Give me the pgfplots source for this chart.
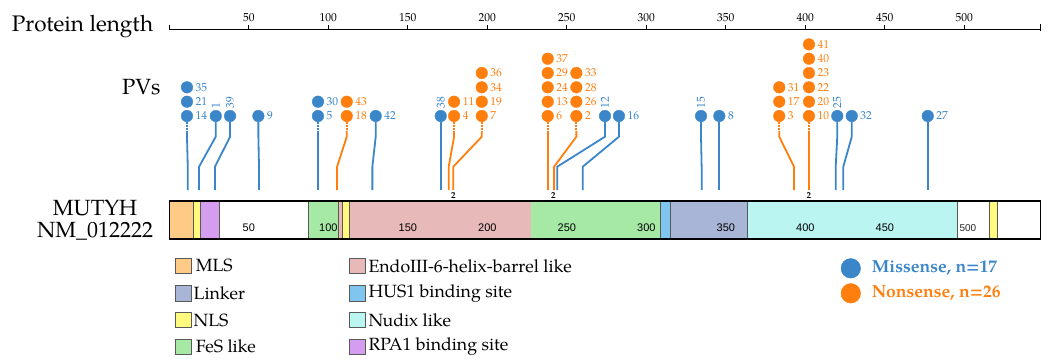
\documentclass[border=0pt]{standalone}
\usepackage{fontspec}
\setmainfont{TeX Gyre Pagella}
\newfontfamily\sansf{Liberation Sans}
\usepackage{pgfplots}
\pgfplotsset{compat=1.18}
\definecolor{mblue}{HTML}{3A86C8}
\definecolor{morange}{HTML}{FF7F0E}
\definecolor{cMLS}{HTML}{FDCB85}
\definecolor{cLinker}{HTML}{A9B5D6}
\definecolor{cNLS}{HTML}{FFFA7D}
\definecolor{cFeS}{HTML}{A6E9A5}
\definecolor{cEndo}{HTML}{E8B9B9}
\definecolor{cHUS}{HTML}{7FC5EE}
\definecolor{cNudix}{HTML}{BBF5F1}
\definecolor{cRPA}{HTML}{D59DF0}
\newcommand{\labfont}{\fontsize{11.5}{12}\selectfont}
\newcommand{\stem}[3]{\addplot[#1, line width=1.8pt] coordinates {(#2,121.5) (#2,136.7) (#3,166.7) (#3,190)};}
\newcommand{\dstem}[3]{\addplot[#1, line width=1.8pt, dash pattern=on 1.5pt off 1.6pt] coordinates {(#2,122) (#2,131)};
\addplot[#1, line width=1.8pt] coordinates {(#2,131) (#2,136.7) (#3,166.7) (#3,190)};}
\newcommand{\dom}[3]{\addplot[fill=#1, draw=black!65, line width=0.6pt] coordinates {(#2,201) (#3,201) (#3,239) (#2,239) (#2,201)};}
\newcommand{\legbox}[3]{\addplot[only marks, mark=square*, mark size=7.8pt, mark options={fill=#1, draw=black!65, line width=0.7pt}] coordinates {(#2,#3)};}
\begin{document}
\begin{tikzpicture}
\path[use as bounding box] (0,0) rectangle (1053pt,359pt);
\begin{axis}[at={(0,0)}, anchor=south west, width=1053pt, height=359pt, scale only axis, hide axis, clip=false,
  xmin=-106.5, xmax=555.8, ymin=0, ymax=359, y dir=reverse]

% ruler
\addplot[black, line width=1.5pt] coordinates {(0,29.5) (548,29.5)};
\addplot[black, line width=1.3pt] coordinates {(0,24.5) (0,30.2)};
\addplot[black, line width=1.3pt] coordinates {(548,24) (548,30.5)};
\pgfplotsinvokeforeach{50,100,...,500}{
  \addplot[black, line width=1pt] coordinates {(#1,25) (#1,29.5)};
  \node[font=\fontsize{11.5}{12}\selectfont] at (axis cs:#1,18) {#1};
}
\node[anchor=base east, font=\fontsize{22.5}{24}\selectfont] at (axis cs:-7.9,31.7) {Protein length};
\node[anchor=base east, font=\fontsize{22}{24}\selectfont] at (axis cs:-3.3,94.3) {PVs};
\node[anchor=base, font=\fontsize{22}{24}\selectfont] at (axis cs:-46.7,215) {MUTYH};
\node[anchor=base, font=\fontsize{22}{24}\selectfont] at (axis cs:-46.7,237.3) {NM\_012222};

% stems (circle position, protein position)
\dstem{mblue}{11.1}{11.6}
\stem{mblue}{29.2}{18.7}
\stem{mblue}{38.2}{28.7}
\stem{mblue}{56.0}{56.4}
\dstem{mblue}{93.5}{93.5}
\stem{mblue}{129.8}{127.7}
\stem{mblue}{170.7}{170.7}
\stem{mblue}{274.0}{244.0}
\stem{mblue}{282.8}{260.0}
\stem{mblue}{334.4}{334.8}
\stem{mblue}{345.9}{345.9}
\stem{mblue}{420.1}{419.1}
\stem{mblue}{429.2}{423.9}
\stem{mblue}{477.0}{477.0}
\dstem{morange}{111.6}{105.5}
\dstem{morange}{179.1}{175.7}
\dstem{morange}{196.5}{178.6}
\dstem{morange}{238.0}{238.0}
\dstem{morange}{256.0}{242.0}
\dstem{morange}{383.6}{392.9}
\dstem{morange}{402.3}{402.3}

% missense circles with labels
\addplot[only marks, mark=*, mark size=5.8pt, color=mblue, nodes near coords, point meta=explicit symbolic,
  every node near coord/.append style={anchor=west, inner sep=0pt, xshift=8.5pt, font=\labfont, text=mblue}]
  table[meta=l] {
x y l
11.1 116 14
11.1 101.7 21
11.1 87.3 35
56.0 116 9
93.5 116 5
93.5 101.7 30
129.8 116 42
282.8 116 16
345.9 116 8
429.2 116 32
477.0 116 27
};
\addplot[only marks, mark=*, mark size=5.8pt, color=mblue] table {
x y
29.2 116
38.2 116
170.7 116
274.0 116
334.4 116
420.1 116
};
\node[rotate=90, anchor=west, inner sep=0pt, text=mblue, font=\labfont] at (axis cs:29.2,108.3) {1};
\node[rotate=90, anchor=west, inner sep=0pt, text=mblue, font=\labfont] at (axis cs:38.2,108.3) {39};
\node[rotate=90, anchor=west, inner sep=0pt, text=mblue, font=\labfont] at (axis cs:170.7,108.3) {38};
\node[rotate=90, anchor=west, inner sep=0pt, text=mblue, font=\labfont] at (axis cs:274.0,108.3) {12};
\node[rotate=90, anchor=west, inner sep=0pt, text=mblue, font=\labfont] at (axis cs:334.4,108.3) {15};
\node[rotate=90, anchor=west, inner sep=0pt, text=mblue, font=\labfont] at (axis cs:420.1,108.3) {25};

% nonsense circles with labels
\addplot[only marks, mark=*, mark size=5.8pt, color=morange, nodes near coords, point meta=explicit symbolic,
  every node near coord/.append style={anchor=west, inner sep=0pt, xshift=8.5pt, font=\labfont, text=morange}]
  table[meta=l] {
x y l
111.6 116 18
111.6 101.7 43
179.1 116 4
179.1 101.7 11
196.5 116 7
196.5 101.7 19
196.5 87.3 34
196.5 73.0 36
238.0 116 6
238.0 101.7 13
238.0 87.3 24
238.0 73.0 29
238.0 58.7 37
256.0 116 2
256.0 101.7 26
256.0 87.3 28
256.0 73.0 33
383.6 116 3
383.6 101.7 17
383.6 87.3 31
402.3 116 10
402.3 101.7 20
402.3 87.3 22
402.3 73.0 23
402.3 58.7 40
402.3 44.4 41
};

% count markers
\node[font=\fontsize{9}{9}\selectfont\bfseries] at (axis cs:178.6,196) {2};
\node[font=\fontsize{9}{9}\selectfont\bfseries] at (axis cs:241.5,196) {2};
\node[font=\fontsize{9}{9}\selectfont\bfseries] at (axis cs:402.3,196) {2};

% domains
\dom{white}{0}{548}
\dom{cMLS}{0}{15.1}
\dom{cNLS}{15.1}{19.3}
\dom{cRPA}{19.3}{31.4}
\dom{cFeS}{87.4}{106.3}
\dom{cEndo}{106.3}{108.6}
\dom{cNLS}{108.6}{113.2}
\dom{cEndo}{113.2}{227.5}
\addplot[fill=cFeS, draw=none] coordinates {(227.5,201.5) (308.6,201.5) (308.6,238.5) (227.5,238.5) (227.5,201.5)};
\addplot[draw=black!65, line width=0.6pt] coordinates {(308.6,201) (308.6,239)};
\dom{cHUS}{308.6}{314.9}
\dom{cLinker}{314.9}{363.8}
\dom{cNudix}{363.8}{495.8}
\dom{cNLS}{515.7}{520.8}
\addplot[black, line width=1.5pt] coordinates {(0,201) (548,201) (548,239) (0,239) (0,201)};
\pgfplotsinvokeforeach{50,100,...,450}{
  \node[font=\sansf\fontsize{11}{11}\selectfont] at (axis cs:#1,227.3) {#1};
}
\node[anchor=west, inner sep=0pt, font=\sansf\fontsize{10}{10}\selectfont, text=black!85] at (axis cs:496.9,228.3) {500};

% domain legend
\legbox{cMLS}{8.76}{265.8}
\legbox{cLinker}{8.76}{293.1}
\legbox{cNLS}{8.76}{320.0}
\legbox{cFeS}{8.76}{346.7}
\legbox{cEndo}{118.2}{265.8}
\legbox{cHUS}{118.2}{293.1}
\legbox{cNudix}{118.2}{320.0}
\legbox{cRPA}{118.2}{346.7}
\node[anchor=west, inner sep=0pt, font=\fontsize{17.7}{18}\selectfont] at (axis cs:16.6,265.8) {MLS};
\node[anchor=west, inner sep=0pt, font=\fontsize{17.7}{18}\selectfont] at (axis cs:15.2,293.1) {Linker};
\node[anchor=west, inner sep=0pt, font=\fontsize{17.7}{18}\selectfont] at (axis cs:15.2,320.0) {NLS};
\node[anchor=west, inner sep=0pt, font=\fontsize{17.7}{18}\selectfont] at (axis cs:16.6,346.7) {FeS like};
\node[anchor=west, inner sep=0pt, font=\fontsize{17.7}{18}\selectfont] at (axis cs:125.2,265.8) {EndoIII-6-helix-barrel like};
\node[anchor=west, inner sep=0pt, font=\fontsize{17.7}{18}\selectfont] at (axis cs:125.2,293.1) {HUS1 binding site};
\node[anchor=west, inner sep=0pt, font=\fontsize{17.7}{18}\selectfont] at (axis cs:125.2,320.0) {Nudix like};
\node[anchor=west, inner sep=0pt, font=\fontsize{17.7}{18}\selectfont] at (axis cs:125.2,346.7) {RPA1 binding site};

% variant legend
\addplot[only marks, mark=*, mark size=9.8pt, color=mblue] coordinates {(428.6,268.3)};
\addplot[only marks, mark=*, mark size=9.8pt, color=morange] coordinates {(428.6,293.3)};
\node[anchor=west, inner sep=0pt, text=mblue, font=\fontsize{17.5}{18}\selectfont\bfseries] at (axis cs:441.8,268.3) {Missense, n=17};
\node[anchor=west, inner sep=0pt, text=morange, font=\fontsize{17.5}{18}\selectfont\bfseries] at (axis cs:441.8,293.3) {Nonsense, n=26};
\end{axis}
\end{tikzpicture}
\end{document}
